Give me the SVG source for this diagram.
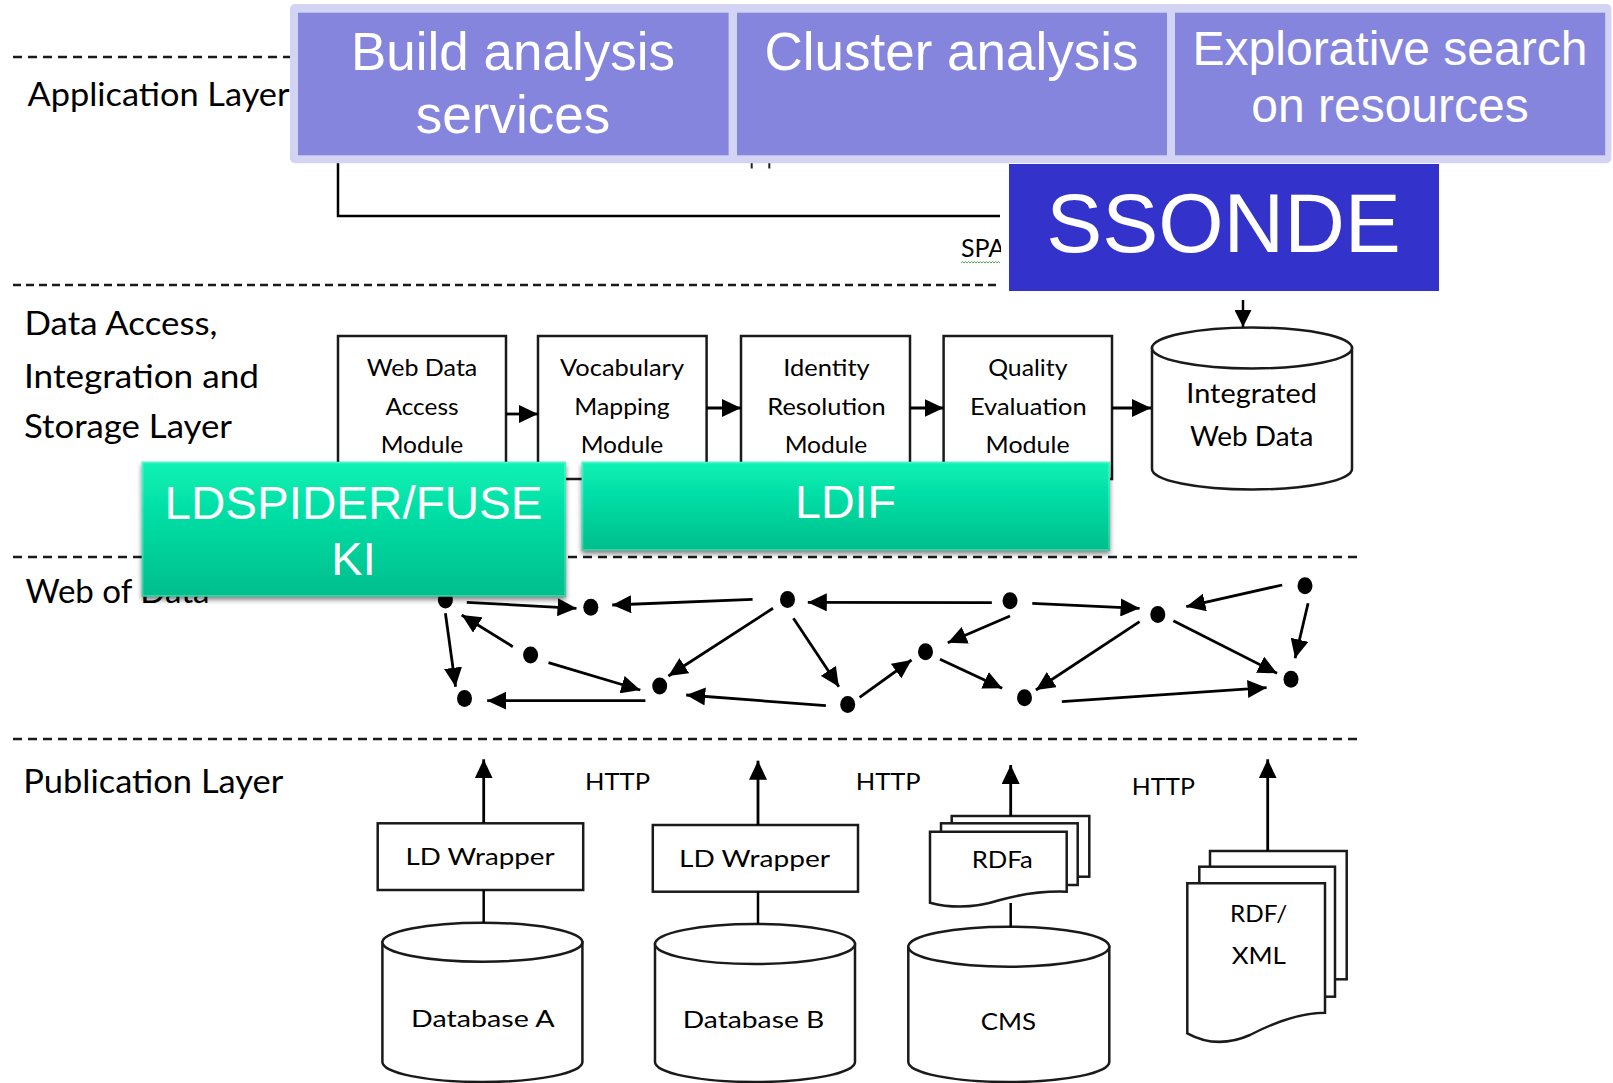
<svg xmlns="http://www.w3.org/2000/svg" width="1613" height="1083" viewBox="0 0 1613 1083">
<defs>
<style>
.lbl{font-family:Lato,"Liberation Sans",sans-serif;fill:#000}
.lay{font-size:33px}
.mod{font-size:23.5px;text-anchor:middle}
.pub{font-size:24px}
.mid{text-anchor:middle}
.wt{font-family:"Liberation Sans",Arial,sans-serif;fill:#fff;text-anchor:middle}
.dash{stroke:#1a1a1a;stroke-width:2.5;stroke-dasharray:9 6;fill:none}
.box{fill:#fff;stroke:#1a1a1a;stroke-width:2.5}
.ln{stroke:#000;stroke-width:2.5;fill:none}
.arr{stroke:#000;stroke-width:2.8;fill:none;marker-end:url(#ah)}
.dot{fill:#000}
.inner{fill:#8585de}
.green{fill:url(#gg);filter:url(#sh)}
</style>
<marker id="ah" markerUnits="userSpaceOnUse" markerWidth="19" markerHeight="18" refX="19" refY="9" orient="auto" viewBox="0 0 19 18"><path d="M0,0 L19,9 L0,18 Z" fill="#000"/></marker>
<marker id="ahs" markerUnits="userSpaceOnUse" markerWidth="17" markerHeight="17" refX="17" refY="8.5" orient="auto" viewBox="0 0 17 17"><path d="M0,0 L17,8.5 L0,17 Z" fill="#000"/></marker>
<linearGradient id="gg" x1="0" y1="0" x2="0" y2="1">
<stop offset="0" stop-color="#08f2b4"/>
<stop offset="1" stop-color="#02be8c"/>
</linearGradient>
<filter id="sh" x="-5%" y="-10%" width="110%" height="135%"><feDropShadow dx="0" dy="3" stdDeviation="2.5" flood-color="#000" flood-opacity="0.5"/></filter>
<clipPath id="spaclip"><rect x="950" y="230" width="51" height="40"/></clipPath>
</defs>

<g id="layer-separators">
<line class="dash" x1="13" y1="57" x2="300" y2="57"/>
<line class="dash" x1="13" y1="285" x2="1000" y2="285" style="stroke-dasharray:8 5"/>
<line class="dash" x1="13" y1="557" x2="1360" y2="557"/>
<line class="dash" x1="13" y1="739" x2="1357" y2="739"/>
</g>

<g id="layer-labels" class="lbl lay">
<text x="27.5" y="106" textLength="262" lengthAdjust="spacingAndGlyphs">Application Layer</text>
<text x="24.5" y="335" textLength="193" lengthAdjust="spacingAndGlyphs">Data Access,</text>
<text x="24" y="388" textLength="235" lengthAdjust="spacingAndGlyphs">Integration and</text>
<text x="24" y="438" textLength="208" lengthAdjust="spacingAndGlyphs">Storage Layer</text>
<text x="25.5" y="603" textLength="184" lengthAdjust="spacingAndGlyphs">Web of Data</text>
<text x="23.3" y="792.7" textLength="260" lengthAdjust="spacingAndGlyphs">Publication Layer</text>
</g>

<g id="sparql-label">
<text class="lbl" x="961" y="257.3" font-size="25" clip-path="url(#spaclip)">SPA</text>
<path d="M961 263 l1.5 -1.5 l1.5 1.5 l1.5 -1.5 l1.5 1.5 l1.5 -1.5 l1.5 1.5 l1.5 -1.5 l1.5 1.5 l1.5 -1.5 l1.5 1.5 l1.5 -1.5 l1.5 1.5 l1.5 -1.5 l1.5 1.5 l1.5 -1.5 l1.5 1.5 l1.5 -1.5 l1.5 1.5 l1.5 -1.5 l1.5 1.5 l1.5 -1.5 l1.5 1.5 l1.5 -1.5 l1.5 1.5 l1.5 -1.5 l1.5 1.5" fill="none" stroke="#4caf50" stroke-width="1"/>
</g>

<g id="module-web-data-access">
<rect class="box" x="338" y="336" width="168" height="143"/>
<text class="lbl mod" x="422" y="376" textLength="110.7" lengthAdjust="spacingAndGlyphs">Web Data</text>
<text class="lbl mod" x="422" y="415" textLength="73" lengthAdjust="spacingAndGlyphs">Access</text>
<text class="lbl mod" x="422" y="452.7" textLength="82.7" lengthAdjust="spacingAndGlyphs">Module</text>
</g>
<g id="module-vocabulary-mapping">
<rect class="box" x="538" y="336" width="168.6" height="143"/>
<text class="lbl mod" x="622" y="376" textLength="124" lengthAdjust="spacingAndGlyphs">Vocabulary</text>
<text class="lbl mod" x="622" y="415" textLength="95.4" lengthAdjust="spacingAndGlyphs">Mapping</text>
<text class="lbl mod" x="622" y="452.7" textLength="82.7" lengthAdjust="spacingAndGlyphs">Module</text>
</g>
<g id="module-identity-resolution">
<rect class="box" x="741" y="336" width="169" height="143"/>
<text class="lbl mod" x="826.5" y="376" textLength="86.4" lengthAdjust="spacingAndGlyphs">Identity</text>
<text class="lbl mod" x="826.5" y="415" textLength="118.3" lengthAdjust="spacingAndGlyphs">Resolution</text>
<text class="lbl mod" x="826" y="452.7" textLength="82.7" lengthAdjust="spacingAndGlyphs">Module</text>
</g>
<g id="module-quality-evaluation">
<rect class="box" x="943.6" y="336" width="168.4" height="143"/>
<text class="lbl mod" x="1027.8" y="376" textLength="79.3" lengthAdjust="spacingAndGlyphs">Quality</text>
<text class="lbl mod" x="1028.3" y="415" textLength="116.7" lengthAdjust="spacingAndGlyphs">Evaluation</text>
<text class="lbl mod" x="1027.6" y="452.7" textLength="84" lengthAdjust="spacingAndGlyphs">Module</text>
</g>
<g id="integrated-web-data">
<path class="box" d="M1152,348 L1152,469 A100,20.5 0 0 0 1352,469 L1352,348 Z"/>
<ellipse class="box" cx="1252" cy="348" rx="100" ry="20.5"/>
<text class="lbl" font-size="26" text-anchor="middle" x="1251.6" y="403.3" textLength="130.6" lengthAdjust="spacingAndGlyphs">Integrated</text>
<text class="lbl" font-size="26" text-anchor="middle" x="1251.6" y="446" textLength="123.4" lengthAdjust="spacingAndGlyphs">Web Data</text>
</g>

<g id="web-of-data-nodes" class="dot">
<g id="wn1"><ellipse cx="445.4" cy="600" rx="7.5" ry="8.5"/></g>
<g id="wn2"><ellipse cx="590.8" cy="607.3" rx="7.5" ry="8.5"/></g>
<g id="wn3"><ellipse cx="787.5" cy="599.5" rx="7.5" ry="8.5"/></g>
<g id="wn4"><ellipse cx="530.6" cy="655" rx="7.5" ry="8.5"/></g>
<g id="wn5"><ellipse cx="659.7" cy="686" rx="7.5" ry="8.5"/></g>
<g id="wn6"><ellipse cx="464.5" cy="698.5" rx="7.5" ry="8.5"/></g>
<g id="wn7"><ellipse cx="1010" cy="600.7" rx="7.5" ry="8.5"/></g>
<g id="wn8"><ellipse cx="1157.8" cy="614.5" rx="7.5" ry="8.5"/></g>
<g id="wn9"><ellipse cx="1305" cy="585.7" rx="7.5" ry="8.5"/></g>
<g id="wn10"><ellipse cx="925.5" cy="651.7" rx="7.5" ry="8.5"/></g>
<g id="wn11"><ellipse cx="847.7" cy="704.5" rx="7.5" ry="8.5"/></g>
<g id="wn12"><ellipse cx="1024.5" cy="697.7" rx="7.5" ry="8.5"/></g>
<g id="wn13"><ellipse cx="1291" cy="679.3" rx="7.5" ry="8.5"/></g>
</g>

<g id="publication-ld-wrapper-a">
<rect class="box" x="377.7" y="823.3" width="205.5" height="66.7"/>
<text class="lbl pub mid" x="480" y="865" textLength="149" lengthAdjust="spacingAndGlyphs">LD Wrapper</text>
</g>
<g id="database-a">
<path class="box" d="M382.4,942.2 L382.4,1062 A100,20 0 0 0 582.4,1062 L582.4,942.2 Z"/>
<ellipse class="box" cx="482.4" cy="942.2" rx="100" ry="19.5"/>
<text class="lbl pub mid" x="482.8" y="1027.3" textLength="143.5" lengthAdjust="spacingAndGlyphs">Database A</text>
</g>
<g id="publication-ld-wrapper-b">
<rect class="box" x="652.8" y="825" width="205.2" height="66.7"/>
<text class="lbl pub mid" x="754.5" y="866.7" textLength="151" lengthAdjust="spacingAndGlyphs">LD Wrapper</text>
</g>
<g id="database-b">
<path class="box" d="M655,944 L655,1062 A100,20 0 0 0 855,1062 L855,944 Z"/>
<ellipse class="box" cx="755" cy="944" rx="100" ry="20"/>
<text class="lbl pub mid" x="753.5" y="1028" textLength="141.6" lengthAdjust="spacingAndGlyphs">Database B</text>
</g>
<g id="rdfa">
<rect class="box" x="951.7" y="816" width="137.6" height="60.7"/>
<rect class="box" x="941" y="823.3" width="136.7" height="61.7"/>
<path class="box" d="M930,831.7 H1066.7 V891.7 C1045,891 1025,893 1000,900 C975,908 950,908 930,902.7 Z"/>
<text class="lbl pub mid" x="1002.2" y="868.3" textLength="61" lengthAdjust="spacingAndGlyphs">RDFa</text>
</g>
<g id="cms">
<path class="box" d="M908.3,946.7 L908.3,1062 A100.5,20 0 0 0 1109.3,1062 L1109.3,946.7 Z"/>
<ellipse class="box" cx="1008.8" cy="946.7" rx="100.5" ry="20"/>
<text class="lbl pub mid" x="1008.3" y="1030" textLength="55.3" lengthAdjust="spacingAndGlyphs">CMS</text>
</g>
<g id="rdf-xml">
<rect class="box" x="1210" y="851" width="136.7" height="128.3"/>
<rect class="box" x="1199.3" y="866.7" width="135.7" height="130"/>
<path class="box" d="M1187.3,883.3 H1325 V1012.7 C1300,1013 1275,1022 1250,1035 C1225,1046 1205,1043 1187.3,1033.3 Z"/>
<text class="lbl pub mid" x="1258.7" y="921.7" textLength="57.3" lengthAdjust="spacingAndGlyphs">RDF/</text>
<text class="lbl pub mid" x="1258.8" y="964.3" textLength="54.3" lengthAdjust="spacingAndGlyphs">XML</text>
</g>
<g id="http-labels" class="lbl pub">
<text x="585" y="790" textLength="65" lengthAdjust="spacingAndGlyphs">HTTP</text>
<text x="855.7" y="790" textLength="65" lengthAdjust="spacingAndGlyphs">HTTP</text>
<text x="1131.7" y="795" textLength="63.3" lengthAdjust="spacingAndGlyphs">HTTP</text>
</g>

<g id="connectors">
<path class="ln" d="M338,160 V216 H1000" stroke-width="2.2"/>
<line x1="751.7" y1="163" x2="751.7" y2="168.5" stroke="#222" stroke-width="2"/>
<line x1="769.3" y1="163" x2="769.3" y2="168.5" stroke="#222" stroke-width="2"/>
<line class="arr" x1="506" y1="414" x2="538" y2="414"/>
<line class="arr" x1="706.6" y1="408" x2="741" y2="408"/>
<line class="arr" x1="910" y1="408" x2="943.6" y2="408"/>
<line class="arr" x1="1112" y1="408" x2="1151" y2="408"/>
<line class="ln" x1="1243" y1="300" x2="1243" y2="327" style="marker-end:url(#ahs)"/>
<line class="arr" x1="466.8" y1="602.3" x2="576.5" y2="608.3"/>
<line class="arr" x1="752.6" y1="599.3" x2="612.2" y2="605"/>
<line class="arr" x1="445.4" y1="613.3" x2="455.6" y2="686.7"/>
<line class="arr" x1="512.8" y1="646.7" x2="461.7" y2="615"/>
<line class="arr" x1="548.5" y1="662.7" x2="640.3" y2="690"/>
<line class="arr" x1="645.4" y1="700.7" x2="487.2" y2="700.7"/>
<line class="arr" x1="773" y1="608.3" x2="668.4" y2="676"/>
<line class="arr" x1="825.9" y1="705.7" x2="686.2" y2="695"/>
<line class="arr" x1="793.4" y1="618.3" x2="838.9" y2="686.7"/>
<line class="arr" x1="991.8" y1="602.7" x2="807.8" y2="602.3"/>
<line class="arr" x1="1032.3" y1="603.3" x2="1139.6" y2="608.3"/>
<line class="arr" x1="1010" y1="616" x2="947.8" y2="642.7"/>
<line class="arr" x1="859.6" y1="697.3" x2="911.5" y2="660"/>
<line class="arr" x1="940" y1="659.3" x2="1002.2" y2="688.3"/>
<line class="arr" x1="1139.6" y1="621.7" x2="1035.9" y2="690"/>
<line class="arr" x1="1173.3" y1="620.7" x2="1277" y2="673.3"/>
<line class="arr" x1="1282.2" y1="585" x2="1186.3" y2="606.7"/>
<line class="arr" x1="1308.1" y1="603.3" x2="1295.1" y2="658.3"/>
<line class="arr" x1="1061.8" y1="701.7" x2="1266.6" y2="687.7"/>
<line class="arr" x1="483.7" y1="823" x2="483.7" y2="759.3"/>
<line class="ln" x1="483.7" y1="890" x2="483.7" y2="922.7"/>
<line class="arr" x1="758" y1="825" x2="758" y2="760.7"/>
<line class="ln" x1="758" y1="891.7" x2="758" y2="924"/>
<line class="arr" x1="1010.7" y1="816" x2="1010.7" y2="765"/>
<line class="ln" x1="1010.7" y1="903" x2="1010.7" y2="926.7"/>
<line class="arr" x1="1267.7" y1="851" x2="1267.7" y2="759.3"/>
</g>

<g id="ldspider-fuseki">
<rect class="green" x="141.7" y="461.7" width="424.3" height="135"/>
<rect x="142.7" y="462.7" width="422.3" height="133" fill="none" stroke="#ffffff" stroke-opacity="0.25" stroke-width="1.5"/>
<text class="wt" x="353.5" y="519" font-size="47" textLength="378" lengthAdjust="spacingAndGlyphs">LDSPIDER/FUSE</text>
<text class="wt" x="353.5" y="575" font-size="47">KI</text>
</g>
<g id="ldif">
<rect class="green" x="581.6" y="461.7" width="528.4" height="89"/>
<rect x="582.6" y="462.7" width="526.4" height="87" fill="none" stroke="#ffffff" stroke-opacity="0.25" stroke-width="1.5"/>
<text class="wt" x="845.5" y="518.3" font-size="47" textLength="101" lengthAdjust="spacingAndGlyphs">LDIF</text>
</g>

<g id="application-panel">
<rect x="290" y="4" width="1321.4" height="159.3" rx="5" fill="#d3d3f3"/>
</g>
<g id="build-analysis-services">
<rect class="inner" x="298" y="12.7" width="430.6" height="142.6"/>
<text class="wt" x="513" y="70" font-size="53">Build analysis</text>
<text class="wt" x="513" y="133" font-size="53">services</text>
</g>
<g id="cluster-analysis">
<rect class="inner" x="737" y="12.7" width="430" height="142.6"/>
<text class="wt" x="951.5" y="70" font-size="53">Cluster analysis</text>
</g>
<g id="explorative-search">
<rect class="inner" x="1175" y="12.7" width="430.2" height="142.6"/>
<text class="wt" x="1390" y="64.5" font-size="48">Explorative search</text>
<text class="wt" x="1390" y="121.7" font-size="48">on resources</text>
</g>
<g id="ssonde">
<rect x="1009" y="164" width="430" height="127" fill="#3333cc"/>
<text class="wt" x="1223.5" y="252" font-size="84">SSONDE</text>
</g>
</svg>
